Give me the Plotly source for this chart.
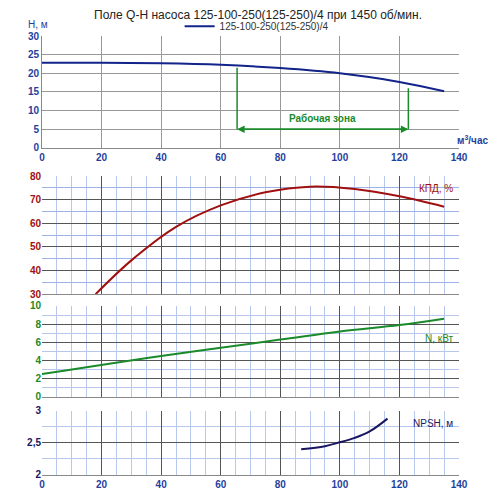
import plotly.graph_objects as go
from plotly.subplots import make_subplots

# Q-H curve
q_h = [0, 20, 40, 60, 80, 100, 120, 135]
h = [22.8, 22.8, 22.7, 22.3, 21.4, 20.0, 17.7, 15.2]
# efficiency
q_eta = [18, 30, 45, 60, 75, 90, 105, 120, 135]
eta = [30, 44.3, 58.5, 67.6, 73.1, 75.5, 74.5, 71.4, 67]
# power
q_n = [0, 40, 80, 100, 120, 135]
n_kw = [2.5, 4.5, 6.3, 7.2, 7.9, 8.6]
# NPSH
q_npsh = [87, 95, 100, 105, 110, 116]
npsh = [2.4, 2.45, 2.51, 2.58, 2.68, 2.88]
# working zone
zone_q = [65.5, 123]
zone_h = [21.5, 16]
zone_arrow_h = 5

BLUE = '#1f3f9e'
fig = make_subplots(rows=4, cols=1)
doms = [(0.745, 1.0), (0.412, 0.681), (0.178, 0.385), (0.0, 0.146)]
for i, d in enumerate(doms):
    fig.layout['yaxis' + ('' if i == 0 else str(i + 1))].domain = d

fig.add_trace(go.Scatter(x=q_h, y=h, mode='lines', name='125-100-250(125-250)/4',
                         line=dict(color='#12238a', width=2, shape='spline')), row=1, col=1)
for q, hh in zip(zone_q, zone_h):
    fig.add_trace(go.Scatter(x=[q, q], y=[zone_arrow_h, hh], mode='lines', showlegend=False,
                             line=dict(color='#1a8a2a', width=1.5)), row=1, col=1)
for a, b in [(zone_q[0], zone_q[1]), (zone_q[1], zone_q[0])]:
    fig.add_annotation(x=b, y=zone_arrow_h, ax=a, ay=zone_arrow_h, xref='x', yref='y',
                       axref='x', ayref='y', showarrow=True, arrowhead=2, arrowsize=1,
                       arrowwidth=1.5, arrowcolor='#1a8a2a', text='')
fig.add_annotation(x=sum(zone_q) / 2, y=zone_arrow_h + 1, xref='x', yref='y', text='<b>Рабочая зона</b>',
                   showarrow=False, yanchor='bottom', font=dict(color='#1a8a2a', size=10))

fig.add_trace(go.Scatter(x=q_eta, y=eta, mode='lines', showlegend=False,
                         line=dict(color='#a01010', width=2, shape='spline')), row=2, col=1)
fig.add_trace(go.Scatter(x=q_n, y=n_kw, mode='lines', showlegend=False,
                         line=dict(color='#1a8a2a', width=2, shape='spline')), row=3, col=1)
fig.add_trace(go.Scatter(x=q_npsh, y=npsh, mode='lines', showlegend=False,
                         line=dict(color='#1a1760', width=2, shape='spline')), row=4, col=1)

for r in range(1, 5):
    minor = dict() if r == 1 else dict(dtick=5, showgrid=True, gridcolor='#b8c8ec', gridwidth=1)
    fig.update_xaxes(range=[0, 140], dtick=20, showgrid=True, gridcolor='#555' if r > 1 else '#999',
                     gridwidth=1, showline=True, linecolor='#888', ticks='', minor=minor,
                     tickfont=dict(size=10, color=BLUE, weight='bold'), zeroline=False, automargin=False,
                     showticklabels=(r in (1, 4)), row=r, col=1)
fig.update_yaxes(automargin=False)
fig.update_yaxes(range=[0, 30], dtick=5, gridcolor='#999', tickfont=dict(size=10, color=BLUE, weight='bold'),
                 showline=True, linecolor='#888', zeroline=False, row=1, col=1)
fig.update_yaxes(range=[30, 80], dtick=10, gridcolor='#555', tickfont=dict(size=10, color='#a01010', weight='bold'),
                 minor=dict(dtick=5, showgrid=True, gridcolor='#9fb2e8'), zeroline=False, row=2, col=1)
fig.update_yaxes(range=[0, 10], dtick=2, gridcolor='#555', tickfont=dict(size=10, color='#1a8a2a', weight='bold'),
                 minor=dict(dtick=1, showgrid=True, gridcolor='#b8c8ec'), zeroline=False, row=3, col=1)
fig.update_yaxes(range=[2, 3], tickvals=[2, 2.5, 3], ticktext=['2', '2,5', '3'], gridcolor='#555',
                 tickfont=dict(size=10, color='#1a1760', weight='bold'),
                 minor=dict(dtick=0.25, showgrid=True, gridcolor='#b8c8ec'), zeroline=False, row=4, col=1)

fig.add_annotation(x=0, y=1.0, xref='paper', yref='paper', text='H, м', showarrow=False,
                   xanchor='right', yanchor='bottom', xshift=8, yshift=4, font=dict(color=BLUE, size=10))
fig.add_annotation(x=1, y=0.745, xref='paper', yref='paper', text='м<sup>3</sup>/час', showarrow=False,
                   xanchor='left', yanchor='bottom', xshift=-4, font=dict(color=BLUE, size=10, weight='bold'))
fig.add_annotation(x=0.99, y=0.67, xref='paper', yref='paper', text='КПД, %', showarrow=False,
                   xanchor='right', yanchor='top', font=dict(color='#a01010', size=10))
fig.add_annotation(x=0.99, y=0.31, xref='paper', yref='paper', text='N, кВт', showarrow=False,
                   xanchor='right', yanchor='middle', font=dict(color='#1a8a2a', size=10))
fig.add_annotation(x=0.99, y=0.135, xref='paper', yref='paper', text='NPSH, м', showarrow=False,
                   xanchor='right', yanchor='top', font=dict(color='#1a1760', size=10))

fig.update_layout(
    width=500, height=497,
    margin=dict(l=34, r=49, t=28, b=30, autoexpand=False),
    plot_bgcolor='white', paper_bgcolor='white',
    font=dict(family='Arial'),
    title=dict(text='Поле Q-H насоса 125-100-250(125-250)/4 при 1450 об/мин.', x=0.5, xanchor='center',
               y=0.995, yanchor='top', font=dict(size=12, color='#222')),
    legend=dict(orientation='h', x=0.33, xanchor='left', y=1.055, yanchor='top',
                font=dict(size=10, color='#333'), bgcolor='rgba(0,0,0,0)'),
)
fig.write_html("out.html")
